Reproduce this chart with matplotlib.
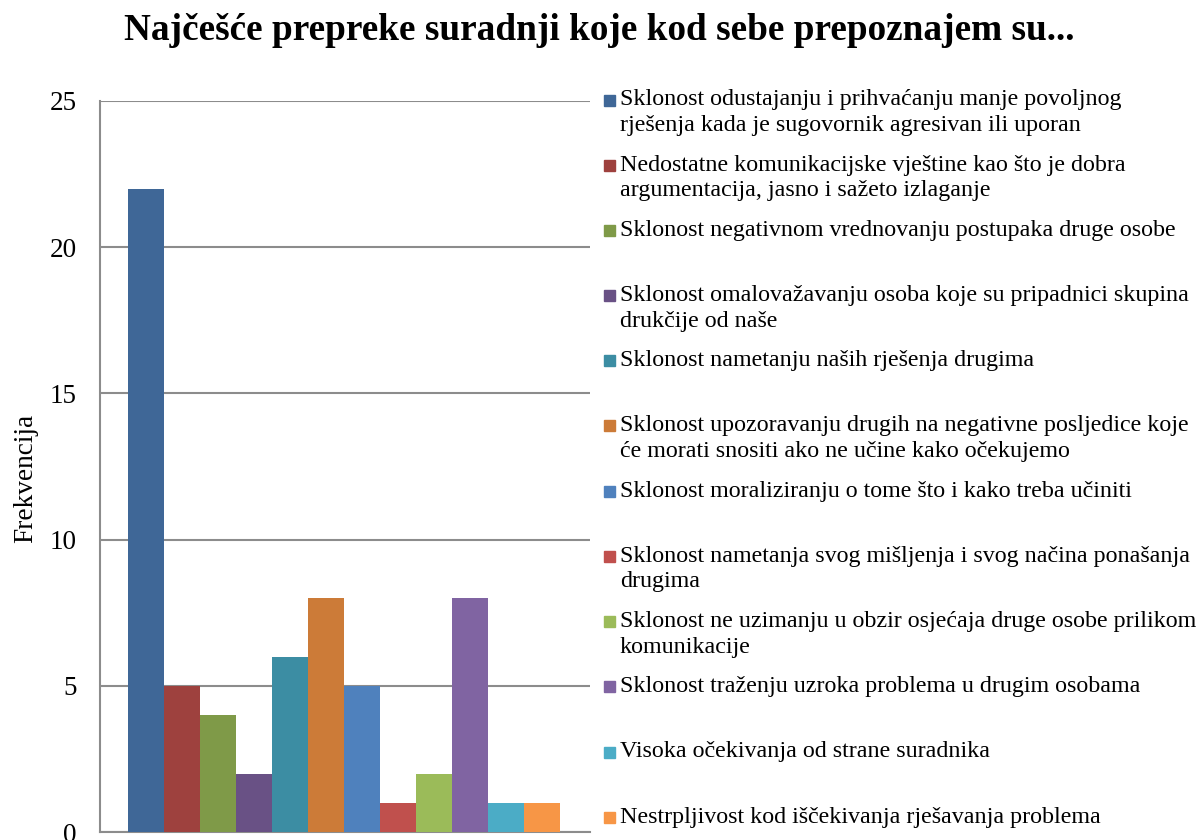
import matplotlib.pyplot as plt
from matplotlib.patches import Rectangle

# podaci
kategorije = [
    "Sklonost odustajanju i prihvaćanju manje povoljnog\nrješenja kada je sugovornik agresivan ili uporan",
    "Nedostatne komunikacijske vještine kao što je dobra\nargumentacija, jasno i sažeto izlaganje",
    "Sklonost negativnom vrednovanju postupaka druge osobe",
    "Sklonost omalovažavanju osoba koje su pripadnici skupina\ndrukčije od naše",
    "Sklonost nametanju naših rješenja drugima",
    "Sklonost upozoravanju drugih na negativne posljedice koje\nće morati snositi ako ne učine kako očekujemo",
    "Sklonost moraliziranju o tome što i kako treba učiniti",
    "Sklonost nametanja svog mišljenja i svog načina ponašanja\ndrugima",
    "Sklonost ne uzimanju u obzir osjećaja druge osobe prilikom\nkomunikacije",
    "Sklonost traženju uzroka problema u drugim osobama",
    "Visoka očekivanja od strane suradnika",
    "Nestrpljivost kod iščekivanja rješavanja problema",
]
frekvencije = [22, 5, 4, 2, 6, 8, 5, 1, 2, 8, 1, 1]
boje = ["#3F6797", "#9E413E", "#7F9A48", "#695185", "#3C8DA3", "#CC7B38",
        "#4F81BD", "#C0504D", "#9BBB59", "#8064A2", "#4BACC6", "#F79646"]
y_ticks = [0, 5, 10, 15, 20, 25]

plt.rcParams["font.family"] = ["Liberation Serif", "DejaVu Serif"]

fig = plt.figure(figsize=(11.99, 8.4), dpi=100)
W, H = 1199, 840
ax = fig.add_axes([100 / W, 1 - 832 / H, 490 / W, 731 / H])

x = list(range(len(frekvencije)))
ax.bar(x, frekvencije, width=1.0, color=boje, zorder=3)
ax.set_xlim(-0.5 - 0.78, len(frekvencije) - 0.5 + 0.82)
ax.set_ylim(0, 25)
ax.set_yticks(y_ticks)
ax.set_xticks([])
ax.tick_params(axis="y", length=0, pad=17, labelsize=19.5)
ax.yaxis.grid(True, color="#8C8C8C", linewidth=1.5, zorder=0)
for s in ["top", "right"]:
    ax.spines[s].set_visible(False)
for s in ["left", "bottom"]:
    ax.spines[s].set_color("#8C8C8C")
    ax.spines[s].set_linewidth(1.5)
ax.set_ylabel("Frekvencija", fontsize=19.6)
ax.yaxis.set_label_coords(-0.1265, (832 - 478) / 731)

fig.text(0.5, 1 - 40 / H, "Najčešće prepreke suradnji koje kod sebe prepoznajem su...",
         ha="center", va="baseline", fontsize=26.8, fontweight="bold")

# legenda
for i, (lab, c) in enumerate(zip(kategorije, boje)):
    y0 = 100 + 65.2 * i
    fig.patches.append(Rectangle((604 / W, 1 - (y0 + 5.5) / H), 11 / W, 11 / H,
                                 transform=fig.transFigure, color=c, figure=fig))
    for j, line in enumerate(lab.split("\n")):
        fig.text(620 / W, 1 - (y0 + 25.5 * j) / H, line, ha="left", va="center",
                 fontsize=17.3)

plt.savefig("out.png", dpi=100)
